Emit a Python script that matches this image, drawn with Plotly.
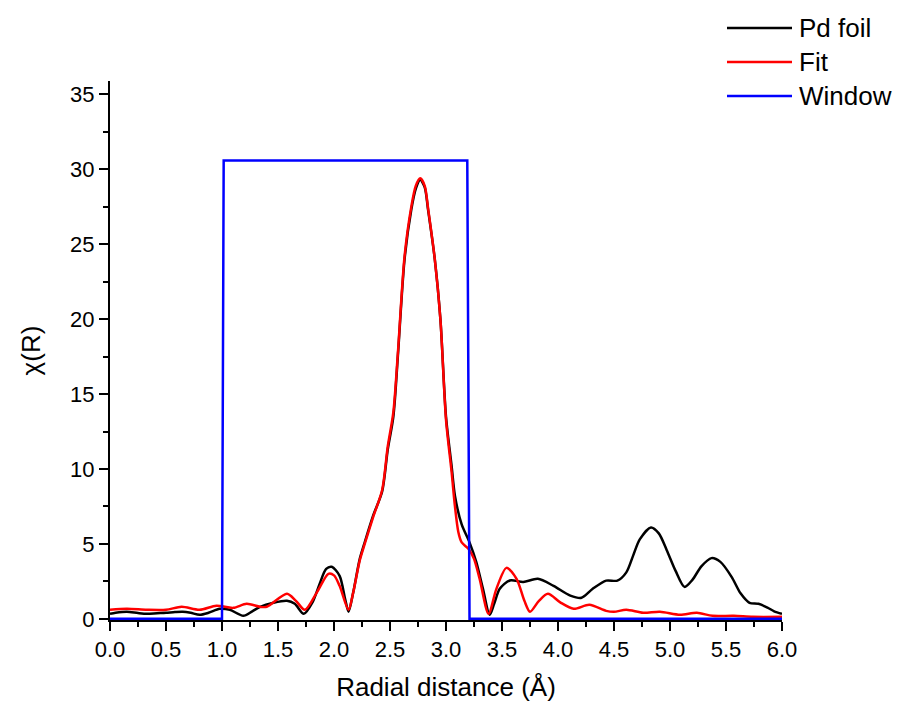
import plotly.graph_objects as go

# Pd foil (experimental) chi(R)
r_foil = [0.0, 0.05, 0.15, 0.25, 0.33, 0.42, 0.5, 0.58, 0.65, 0.72, 0.8, 0.88, 0.98, 1.07, 1.19,
          1.27, 1.34, 1.46, 1.58, 1.65, 1.73, 1.81, 1.87, 1.93, 1.98, 2.05, 2.1, 2.13, 2.17, 2.23,
          2.27, 2.35, 2.43, 2.48, 2.53, 2.57, 2.63, 2.69, 2.73, 2.77, 2.81, 2.84, 2.9, 2.95, 3.0,
          3.05, 3.08, 3.14, 3.21, 3.27, 3.33, 3.39, 3.43, 3.48, 3.57, 3.69, 3.82, 3.96, 4.11, 4.21,
          4.31, 4.43, 4.53, 4.61, 4.67, 4.73, 4.83, 4.9, 4.97, 5.05, 5.13, 5.2, 5.28, 5.37, 5.45,
          5.55, 5.63, 5.71, 5.79, 5.87, 5.93, 6.0]
chi_foil = [0.33, 0.4, 0.47, 0.38, 0.33, 0.37, 0.4, 0.45, 0.47, 0.4, 0.27, 0.4, 0.67, 0.6, 0.2,
            0.5, 0.8, 1.07, 1.2, 1.0, 0.33, 1.13, 2.3, 3.33, 3.47, 2.87, 1.3, 0.47, 1.7, 4.0,
            5.0, 6.9, 8.5, 11.3, 13.5, 17.5, 24.0, 27.3, 28.7, 29.3, 28.8, 27.3, 24.0, 20.0, 13.5,
            10.2, 8.2, 6.3, 5.1, 3.8, 2.0, 0.27, 1.0, 2.0, 2.56, 2.46, 2.67, 2.2, 1.55, 1.4,
            2.0, 2.55, 2.55, 3.1, 4.2, 5.3, 6.1, 5.7, 4.6, 3.2, 2.13, 2.6, 3.5, 4.05, 3.8,
            2.8, 1.7, 1.07, 1.0, 0.75, 0.5, 0.33]

# Fit
r_fit = [0.0, 0.15, 0.33, 0.5, 0.64, 0.8, 0.95, 1.1, 1.22, 1.34, 1.4, 1.58, 1.66, 1.74, 1.85,
         1.95, 2.0, 2.05, 2.13, 2.17, 2.23, 2.27, 2.35, 2.43, 2.48, 2.53, 2.57, 2.63, 2.69, 2.73,
         2.77, 2.81, 2.84, 2.9, 2.95, 3.0, 3.05, 3.08, 3.11, 3.14, 3.2, 3.25, 3.3, 3.38, 3.45,
         3.54, 3.63, 3.7, 3.75, 3.83, 3.91, 4.02, 4.14, 4.28, 4.43, 4.5, 4.61, 4.76, 4.91, 5.09,
         5.24, 5.38, 5.57, 5.74, 6.0]
chi_fit = [0.6, 0.67, 0.6, 0.6, 0.8, 0.6, 0.87, 0.73, 1.0, 0.8, 0.8, 1.67, 1.2, 0.6, 1.8,
           3.0, 2.9, 2.2, 0.6, 1.7, 3.9, 4.9, 6.8, 8.6, 11.5, 13.8, 17.7, 24.2, 27.5, 28.9,
           29.4, 28.9, 27.4, 24.0, 20.0, 13.3, 9.8, 7.5, 5.8, 5.1, 4.67, 4.0, 2.67, 0.33, 2.0,
           3.4, 2.67, 1.2, 0.47, 1.2, 1.67, 1.1, 0.67, 0.93, 0.53, 0.47, 0.6, 0.4, 0.47, 0.27,
           0.4, 0.2, 0.2, 0.13, 0.13]

# Fit window
r_window = [0.0, 1.0, 1.015, 3.19, 3.21, 6.0]
w_window = [0.0, 0.0, 30.6, 30.6, 0.0, 0.0]

x_ticks = [0.0, 0.5, 1.0, 1.5, 2.0, 2.5, 3.0, 3.5, 4.0, 4.5, 5.0, 5.5, 6.0]
y_ticks = [0, 5, 10, 15, 20, 25, 30, 35]

series_names = ["Pd foil", "Fit", "Window"]
series_colors = ["black", "#ff0000", "#0000ff"]

FONT = "Liberation Sans, Arial, sans-serif"

fig = go.Figure()
fig.add_trace(go.Scatter(x=r_foil, y=chi_foil, mode="lines", name=series_names[0], showlegend=False,
                         line=dict(color=series_colors[0], width=2.5, shape="spline", smoothing=0.8)))
fig.add_trace(go.Scatter(x=r_fit, y=chi_fit, mode="lines", name=series_names[1], showlegend=False,
                         line=dict(color=series_colors[1], width=2.5, shape="spline", smoothing=0.8)))
fig.add_trace(go.Scatter(x=r_window, y=w_window, mode="lines", name=series_names[2], showlegend=False,
                         line=dict(color=series_colors[2], width=2.5)))

# The page body adds an 8px offset; size the figure so it fills the 904x710 window.
OFF = 8
W, H = 904 - OFF, 710 - OFF
ML, MR, MT, MB = 110 - OFF, 122, 81 - OFF, 90
PW, PH = W - ML - MR, H - MT - MB


def px_x(px):
    # window pixel -> paper x
    return (px - OFF - ML) / PW


def px_y(py):
    # window pixel -> paper y
    return (H - MB - (py - OFF)) / PH


legend_y = [28, 62, 96]
for name, color, ly in zip(series_names, series_colors, legend_y):
    fig.add_shape(type="line", xref="paper", yref="paper",
                  x0=px_x(727), x1=px_x(792), y0=px_y(ly), y1=px_y(ly),
                  line=dict(color=color, width=2.5))
    fig.add_annotation(xref="paper", yref="paper", x=px_x(797), y=px_y(ly),
                       xanchor="left", yanchor="middle", showarrow=False, text=name,
                       font=dict(family=FONT, size=26, color="black"))

axis_common = dict(showline=True, linecolor="black", linewidth=2, showgrid=False, zeroline=False,
                   ticks="outside", ticklen=9, tickwidth=2, tickcolor="black",
                   tickfont=dict(family=FONT, size=22, color="black"))

fig.update_layout(
    width=W, height=H,
    margin=dict(l=ML, r=MR, t=MT, b=MB, autoexpand=False),
    paper_bgcolor="white", plot_bgcolor="white",
    font=dict(family=FONT, color="black"),
    showlegend=False,
    xaxis=dict(range=[0, 6], tickvals=x_ticks, ticktext=[f"{v:.1f}" for v in x_ticks],
               minor=dict(dtick=0.25, ticks="outside", ticklen=5, tickwidth=2, tickcolor="black"),
               title=dict(text="Radial distance (Å)", font=dict(family=FONT, size=26), standoff=16),
               automargin=False, **axis_common),
    yaxis=dict(range=[-0.08, 35.9], tickvals=y_ticks, ticktext=[str(v) for v in y_ticks],
               minor=dict(tick0=0, dtick=2.5, ticks="outside", ticklen=5, tickwidth=2, tickcolor="black"),
               title=dict(text="χ(R)", font=dict(family=FONT, size=26), standoff=22),
               automargin=False, **axis_common),
)

fig.write_html("out.html")
